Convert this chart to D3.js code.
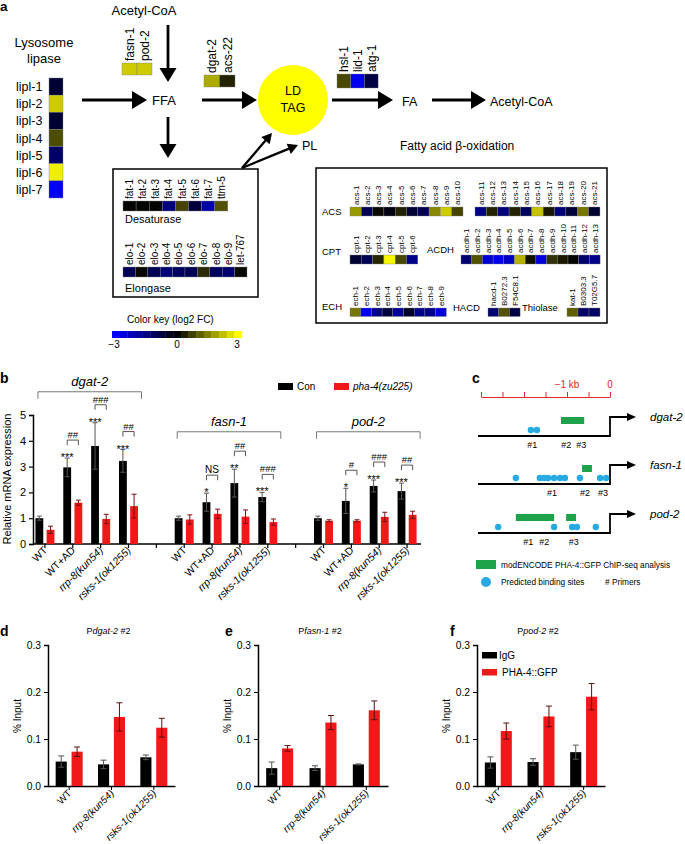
<!DOCTYPE html>
<html><head><meta charset="utf-8">
<script src="https://cdn.jsdelivr.net/npm/d3@7"></script>
<style>body{margin:0;background:#fff}svg{font-family:"Liberation Sans",Arial,Helvetica,sans-serif}</style>
</head><body><script>
// ---------- DATA ----------
const liplGenes=["lipl-1","lipl-2","lipl-3","lipl-4","lipl-5","lipl-6","lipl-7"];
const liplFC=[-0.6,2.4,-0.6,0.9,-1.2,2.8,-2.9];
const synGenes=["fasn-1","pod-2"], synFC=[2.4,2.4];
const tagGenes=["dgat-2","acs-22"], tagFC=[2.0,0.4];
const lipoGenes=["hsl-1","lid-1","atg-1"], lipoFC=[0.85,-2.8,-0.8];
const fatGenes=["fat-1","fat-2","fat-3","fat-4","fat-5","fat-6","fat-7","ttm-5"];
const fatFC=[0.05,0.05,0.05,-1.5,0.8,-0.7,-2.0,0.95];
const eloGenes=["elo-1","elo-2","elo-3","elo-4","elo-5","elo-6","elo-7","elo-8","elo-9","let-767"];
const eloFC=[-1.0,0.1,-1.0,-1.4,-1.1,-1.0,0.5,-1.1,-1.3,0.1];
const acsAGenes=["acs-1","acs-2","acs-3","acs-4","acs-5","acs-6","acs-7","acs-8","acs-9","acs-10"];
const acsAFC=[1.8,-1.0,0.1,-0.2,0.4,-0.6,-1.0,1.6,2.4,0.8];
const acsBGenes=["acs-11","acs-12","acs-13","acs-14","acs-15","acs-16","acs-17","acs-18","acs-19","acs-20","acs-21"];
const acsBFC=[-1.6,0.4,-1.5,0.4,-1.1,2.3,0.3,-1.4,-0.7,1.4,-0.6];
const cptGenes=["cpt-1","cpt-2","cpt-3","cpt-4","cpt-5","cpt-6"];
const cptFC=[-0.6,-1.0,0.45,2.9,0.85,-1.6];
const acdhGenes=["acdh-1","acdh-2","acdh-3","acdh-4","acdh-5","acdh-6","acdh-7","acdh-8","acdh-9","acdh-10","acdh-11","acdh-12","acdh-13"];
const acdhFC=[-1.3,0.95,-2.5,-2.8,-2.3,2.1,0.2,-2.6,0.6,0.3,0.05,-1.3,-1.6];
const echGenes=["ech-1","ech-2","ech-3","ech-4","ech-5","ech-6","ech-7","ech-8","ech-9"];
const echFC=[1.4,-2.8,-1.5,-0.7,-1.8,-0.5,-1.6,-1.6,-2.5];
const hacdGenes=["hacd-1","B0272.3","F54C8.1"], hacdFC=[-1.3,0.95,-0.8];
const thioGenes=["kat-1","B0303.3","T02G5.7"], thioFC=[1.1,-1.2,-1.2];
const keyTicks=[-3,0,3];

// panel b
const bGenes=["dgat-2","fasn-1","pod-2"];
const bConds=["WT","WT+AD","rrp-8(kun54)","rsks-1(ok1255)"];
const bCon=[[1.0,2.97,3.8,3.22],[1.0,1.62,2.36,1.82],[1.0,1.67,2.25,2.05]];
const bConErr=[[0.08,0.36,0.9,0.44],[0.08,0.35,0.54,0.18],[0.08,0.49,0.23,0.31]];
const bPha=[[0.55,1.6,0.97,1.47],[0.95,1.17,1.06,0.85],[0.9,0.9,1.05,1.13]];
const bPhaErr=[[0.14,0.1,0.18,0.46],[0.18,0.18,0.26,0.12],[0.04,0.04,0.18,0.14]];
const bStars=[["","***","***","***"],["","*","**","***"],["","*","***","***"]];
const bHash=[["","##","###","##"],["","NS","##","###"],["","#","###","##"]];
const bBracketLevel=[5.9,4.35,4.35];
const bSeries=["Con","pha-4(zu225)"];

// panel c (kb upstream)
const cGenes=["dgat-2","fasn-1","pod-2"];
const cSites=[[-1.84,-1.70],[-2.19,-1.63,-1.53,-1.44,-1.30,-1.16,-1.05,-0.70,-0.23,-0.09],[-2.6,-1.3,-0.88,-0.77,-0.33]];
const cChip=[[[-1.14,-0.60]],[[-0.65,-0.42]],[[-2.19,-1.30],[-1.02,-0.79]]];
const cPrimers=[[["#1",-1.81],["#2",-1.02],["#3",-0.67]],[["#1",-1.35],["#2",-0.58],["#3",-0.16]],[["#1",-1.9],["#2",-1.53],["#3",-0.84]]];

// panels d-f
const chipConds=["WT","rrp-8(kun54)","rsks-1(ok1255)"];
const chipSeries=["IgG","PHA-4::GFP"];
const dIgG=[0.052,0.046,0.061], dIgGErr=[0.012,0.009,0.005];
const dGFP=[0.073,0.147,0.124], dGFPErr=[0.010,0.030,0.020];
const eIgG=[0.038,0.038,0.046], eIgGErr=[0.013,0.005,0.001];
const eGFP=[0.080,0.135,0.161], eGFPErr=[0.006,0.015,0.020];
const fIgG=[0.050,0.051,0.072], fIgGErr=[0.012,0.007,0.015];
const fGFP=[0.117,0.148,0.190], fGFPErr=[0.017,0.022,0.028];
const chipTicks=[0,0.1,0.2,0.3];

// ---------- DRAW ----------
const svg=d3.select("body").append("svg").attr("width",685).attr("height",844);
const color=d3.scaleLinear().domain([-3,0,3]).range(["#0000ff","#000000","#ffff00"]).clamp(true);
const RED="#f01818";

function txt(x,y,s,fs,opt={}){
  const t=svg.append("text").attr("x",x).attr("y",y).attr("font-size",fs).text(s);
  if(opt.anchor)t.attr("text-anchor",opt.anchor);
  if(opt.bold)t.attr("font-weight","bold");
  if(opt.italic)t.attr("font-style","italic");
  if(opt.fill)t.attr("fill",opt.fill);
  return t;
}
function arrow(x1,y1,x2,y2,w,hl,hw){
  const a=Math.atan2(y2-y1,x2-x1);
  const bx=x2-hl*Math.cos(a), by=y2-hl*Math.sin(a);
  svg.append("line").attr("x1",x1).attr("y1",y1).attr("x2",bx+Math.cos(a)).attr("y2",by+Math.sin(a)).attr("stroke","#000").attr("stroke-width",w);
  const px=-Math.sin(a)*hw, py=Math.cos(a)*hw;
  svg.append("path").attr("d",`M${x2},${y2}L${bx+px},${by+py}L${bx-px},${by-py}Z`).attr("fill","#000");
}
function heatRow(genes,vals,x0,y0,cw,ch,fs){
  const x=d3.scaleBand().domain(genes).range([x0,x0+cw*genes.length]);
  const g=svg.append("g");
  g.selectAll("rect").data(genes).join("rect").attr("x",d=>x(d)).attr("y",y0)
    .attr("width",x.bandwidth()).attr("height",ch).attr("fill",(d,i)=>color(vals[i]))
    .attr("stroke","#808080").attr("stroke-width",0.4);
  g.selectAll("text").data(genes).join("text")
    .attr("transform",d=>`translate(${x(d)+x.bandwidth()/2+fs*0.36},${y0-2}) rotate(-90)`)
    .attr("font-size",fs).text(d=>d);
}

// ===== Panel a =====
txt(0,11,"a",13.5,{bold:true});
txt(144,15,"Acetyl-CoA",13,{anchor:"middle"});
txt(44,47,"Lysosome",13,{anchor:"middle"});
txt(44,63,"lipase",13,{anchor:"middle"});
{
  const y=d3.scaleBand().domain(liplGenes).range([78,198]);
  svg.append("g").selectAll("rect").data(liplGenes).join("rect").attr("x",49).attr("y",d=>y(d))
    .attr("width",14).attr("height",y.bandwidth()).attr("fill",(d,i)=>color(liplFC[i]))
    .attr("stroke","#808080").attr("stroke-width",0.4);
  svg.append("g").selectAll("text").data(liplGenes).join("text").attr("x",16)
    .attr("y",d=>y(d)+y.bandwidth()/2+4.5).attr("font-size",12.5).text(d=>d);
}
heatRow(synGenes,synFC,122,63,15,12,12);
heatRow(tagGenes,tagFC,204,75,15.5,12,12);
heatRow(lipoGenes,lipoFC,337,74,13.7,14,12);
arrow(168,25,168,82,2.8,14,8.5);
arrow(82,100,147,100,2.8,15,9);
txt(164,105,"FFA",13,{anchor:"middle"});
arrow(168,117,168,158,2.8,14,8.5);
arrow(202,100,257,100,2.8,15,9);
svg.append("circle").attr("cx",293).attr("cy",100).attr("r",35).attr("fill","#ffff00");
txt(293,95,"LD",12.5,{anchor:"middle"});
txt(293,112,"TAG",12.5,{anchor:"middle"});
arrow(332,100,393,100,2.8,15,9);
txt(402,106,"FA",12.5);
arrow(432,100,486,100,2.8,15,9);
txt(490,106,"Acetyl-CoA",12.5);
arrow(242,168,272,133,2.3,10,5.5);
arrow(242,168,298,145,2.3,10,5.5);
txt(302,150,"PL",12.5);
txt(400,150,"Fatty acid β-oxidation",12);

// Desaturase / Elongase box
svg.append("rect").attr("x",113).attr("y",169).attr("width",145).attr("height",128).attr("fill","none").attr("stroke","#000").attr("stroke-width",1.5);
heatRow(fatGenes,fatFC,123,201,13.1,10,10);
txt(125,223,"Desaturase",11);
heatRow(eloGenes,eloFC,123,267,12.4,10,10);
txt(125,292,"Elongase",11);
// color key
txt(127,323,"Color key (log2 FC)",10);
{
  const steps=d3.range(17).map(i=>-3+i*6/16);
  const xk=d3.scaleLinear().domain([-3,3]).range([112,242]);
  const sw=(242-112)/17;
  svg.append("g").selectAll("rect").data(steps).join("rect").attr("x",(d,i)=>112+i*sw).attr("y",331)
    .attr("width",sw+0.3).attr("height",7).attr("fill",d=>color(d));
  svg.append("g").selectAll("text").data(keyTicks).join("text").attr("x",d=>xk(d)+(d===3?-5:d===-3?2:0)).attr("y",348)
    .attr("text-anchor","middle").attr("font-size",10).text(d=>d<0?"−"+Math.abs(d):d);
}

// Fatty acid box
svg.append("rect").attr("x",316).attr("y",168).attr("width",291).attr("height",155).attr("fill","none").attr("stroke","#000").attr("stroke-width",1.5);
txt(322,215,"ACS",9.5);
heatRow(acsAGenes,acsAFC,350,207,11.3,9,8);
heatRow(acsBGenes,acsBFC,475,207,11.36,9,8);
txt(322,255,"CPT",9.5);
heatRow(cptGenes,cptFC,350,255,11.3,9,8);
txt(427,253,"ACDH",9.5);
heatRow(acdhGenes,acdhFC,461,255,10.7,9,8);
txt(322,310,"ECH",9.5);
heatRow(echGenes,echFC,350,308,10.7,8.5,8);
txt(453,311,"HACD",9.5);
heatRow(hacdGenes,hacdFC,488,308,10.7,8.5,8);
txt(522,311,"Thiolase",9.5);
heatRow(thioGenes,thioFC,567,308,11,8.5,8);

// ===== Panel b =====
txt(0,383,"b",14,{bold:true});
{
  const yb=d3.scaleLinear().domain([0,5]).range([544,415]);
  const xb=d3.scaleBand().domain(d3.range(14)).range([31,421]);
  const xin=d3.scaleBand().domain(bSeries).range([0,19]).paddingInner(0.3);
  const cx=s=>xb(s)+xb.bandwidth()/2;
  const g=svg.append("g");
  const ya=g.append("g").attr("transform","translate(33,0)").call(d3.axisLeft(yb).ticks(5).tickSize(4).tickPadding(3));
  ya.selectAll("text").attr("font-size",11).attr("font-family",null);
  ya.select(".domain").attr("stroke-width",1.5);
  ya.selectAll(".tick line").attr("stroke-width",1.2);
  const xa=g.append("g").attr("transform","translate(0,544)").call(d3.axisBottom(xb).tickSize(4).tickSizeOuter(0).tickFormat(""));
  xa.select(".domain").attr("d","M33,0H421").attr("stroke-width",1.5);
  xa.selectAll(".tick line").attr("stroke-width",1.2);
  txt(0,0,"Relative mRNA expression",11,{anchor:"middle"}).attr("transform","translate(11,479) rotate(-90)").attr("x",null).attr("y",null);
  bGenes.forEach((gene,gi)=>{
    const slotsG=bConds.map((c,ci)=>gi*5+ci);
    const bl=yb(bBracketLevel[gi]);
    const gx0=cx(slotsG[0])-7, gx1=cx(slotsG[3])+13;
    g.append("path").attr("d",`M${gx0},${bl+7}V${bl}H${gx1}V${bl+7}`).attr("fill","none").attr("stroke","#777").attr("stroke-width",1);
    txt((gx0+gx1)/2,bl-6,gene,13,{anchor:"middle",italic:true});
    bConds.forEach((cond,ci)=>{
      const c=cx(slotsG[ci]);
      const vals=[bCon[gi][ci],bPha[gi][ci]], errs=[bConErr[gi][ci],bPhaErr[gi][ci]];
      bSeries.forEach((s,k)=>{
        const x=c-9.5+xin(s), w=xin.bandwidth(), v=vals[k], e=errs[k];
        g.append("rect").attr("x",x).attr("y",yb(v)).attr("width",w).attr("height",yb(0)-yb(v)).attr("fill",k?RED:"#000");
        const m=x+w/2, ec=k?"#7a1010":"#555";
        g.append("path").attr("d",`M${m},${yb(v-e)}V${yb(v+e)}M${m-2.5},${yb(v+e)}H${m+2.5}M${m-2.5},${yb(v-e)}H${m+2.5}`).attr("stroke",ec).attr("stroke-width",1).attr("fill","none");
      });
      const xc0=c-9.5+xin("Con")+xin.bandwidth()/2, xc1=c-9.5+xin(bSeries[1])+xin.bandwidth()/2;
      const top=yb(vals[0]+errs[0]);
      if(bStars[gi][ci]) txt(xc0,top+3,bStars[gi][ci],11,{anchor:"middle",fill:"#000"});
      if(bHash[gi][ci]){
        const by=top-18;
        g.append("path").attr("d",`M${xc0},${by+5}V${by}H${xc1}V${by+5}`).attr("fill","none").attr("stroke","#555").attr("stroke-width",1);
        txt((xc0+xc1)/2,by-2,bHash[gi][ci],bHash[gi][ci]==="NS"?10:9.5,{anchor:"middle"});
      }
      txt(0,0,cond,10.5,{anchor:"end",italic:ci>=2}).attr("x",null).attr("y",null)
        .attr("transform",`translate(${c+3},${551}) rotate(-45)`);
    });
  });
  svg.append("rect").attr("x",278).attr("y",383).attr("width",15).attr("height",7).attr("fill","#000");
  txt(297,390,bSeries[0],10);
  svg.append("rect").attr("x",334).attr("y",383).attr("width",15).attr("height",7).attr("fill",RED);
  txt(353,390,bSeries[1],10,{italic:true});
}

// ===== Panel c =====
txt(472,383,"c",14,{bold:true});
{
  const xc=d3.scaleLinear().domain([-3,0]).range([481,610]);
  const CR="#e8262b";
  const ax=svg.append("g").attr("transform","translate(0,397)").call(d3.axisTop(xc).tickValues(d3.range(-3,0.01,0.5)).tickSize(5).tickSizeOuter(0).tickFormat(""));
  ax.select(".domain").attr("stroke",CR).attr("stroke-width",1);
  ax.selectAll(".tick line").attr("stroke",CR);
  txt(xc(-1),388,"−1 kb",10,{anchor:"middle",fill:CR});
  txt(xc(0),388,"0",10,{anchor:"middle",fill:CR});
  const lines=[436,484,533];
  cGenes.forEach((gene,i)=>{
    const ly=lines[i];
    svg.append("path").attr("d",`M${xc(-3.07)},${ly}H${xc(0)}V${ly-19}H${628}`).attr("fill","none").attr("stroke","#000").attr("stroke-width",1.8);
    svg.append("path").attr("d",`M636,${ly-19}L627,${ly-23}L627,${ly-15}Z`).attr("fill","#000");
    txt(650,ly-15,gene,11.5,{italic:true});
    cChip[i].forEach(r=>svg.append("rect").attr("x",xc(r[0])).attr("y",ly-19).attr("width",xc(r[1])-xc(r[0])).attr("height",7).attr("fill","#1fa34a"));
    svg.append("g").selectAll("circle").data(cSites[i]).join("circle").attr("cx",d=>xc(d)).attr("cy",ly-6).attr("r",3.2).attr("fill","#27aae1");
    cPrimers[i].forEach(p=>txt(xc(p[1]),ly+12,p[0],9,{anchor:"middle"}));
  });
  svg.append("rect").attr("x",476).attr("y",560).attr("width",20).attr("height",9).attr("fill","#1fa34a");
  txt(501,568,"modENCODE PHA-4::GFP ChIP-seq analysis",8.3);
  svg.append("circle").attr("cx",486).attr("cy",582).attr("r",5).attr("fill","#27aae1");
  txt(501,585,"Predicted binding sites",8.3);
  txt(605,585,"#  Primers",8.3);
}

// ===== Panels d-f =====
function chipPanel(letter,lx,gene,x0,x1,igg,iggE,gfp,gfpE,legend){
  txt(lx,636,letter,14,{bold:true});
  const y=d3.scaleLinear().domain([0,0.3]).range([786,645]);
  const x=d3.scaleBand().domain(chipConds).range([x0,x1]);
  const xin=d3.scaleBand().domain(chipSeries).range([0,27]).paddingInner(0.3);
  const g=svg.append("g");
  const ya=g.append("g").attr("transform",`translate(${x0},0)`).call(d3.axisLeft(y).tickValues(chipTicks).tickFormat(d3.format(".1f")).tickSize(4).tickPadding(3));
  ya.selectAll("text").attr("font-size",10.3).attr("font-family",null);
  ya.select(".domain").attr("stroke-width",1.5);
  const xa=g.append("g").attr("transform","translate(0,786)").call(d3.axisBottom(x).tickSize(4).tickSizeOuter(0).tickFormat(""));
  xa.select(".domain").attr("stroke-width",1.5);
  const t=svg.append("text").attr("x",(x0+x1)/2-3).attr("y",634).attr("text-anchor","middle").attr("font-size",9);
  t.append("tspan").text("P"); t.append("tspan").attr("font-style","italic").text(gene); t.append("tspan").text(" #2");
  svg.append("text").attr("transform",`translate(${x0-27},716) rotate(-90)`).attr("text-anchor","middle").attr("font-size",10).text("% Input");
  chipConds.forEach((c,ci)=>{
    const cx=x(c)+x.bandwidth()/2;
    [[igg,iggE],[gfp,gfpE]].forEach((arr,k)=>{
      const v=arr[0][ci], e=arr[1][ci];
      const bx=cx-13.5+xin(chipSeries[k]), w=xin.bandwidth();
      g.append("rect").attr("x",bx).attr("y",y(v)).attr("width",w).attr("height",y(0)-y(v)).attr("fill",k?RED:"#000");
      const m=bx+w/2;
      g.append("path").attr("d",`M${m},${y(v-e)}V${y(v+e)}M${m-3},${y(v+e)}H${m+3}M${m-3},${y(v-e)}H${m+3}`).attr("stroke",k?"#5a1010":"#555").attr("stroke-width",1).attr("fill","none");
    });
    svg.append("text").attr("transform",`translate(${cx+3},794) rotate(-45)`).attr("text-anchor","end")
      .attr("font-size",10).attr("font-style",ci?"italic":"normal").text(c);
  });
  if(legend){
    svg.append("rect").attr("x",482).attr("y",652).attr("width",15).attr("height",6.5).attr("fill","#000");
    txt(499,659,chipSeries[0],10);
    svg.append("rect").attr("x",482).attr("y",669).attr("width",15).attr("height",6.5).attr("fill",RED);
    txt(502,676,chipSeries[1],10);
  }
}
chipPanel("d",0,"dgat-2",48,175,dIgG,dIgGErr,dGFP,dGFPErr,false);
chipPanel("e",225,"fasn-1",258,388,eIgG,eIgGErr,eGFP,eGFPErr,false);
chipPanel("f",450,"pod-2",477,605,fIgG,fIgGErr,fGFP,fGFPErr,true);
</script></body></html>
